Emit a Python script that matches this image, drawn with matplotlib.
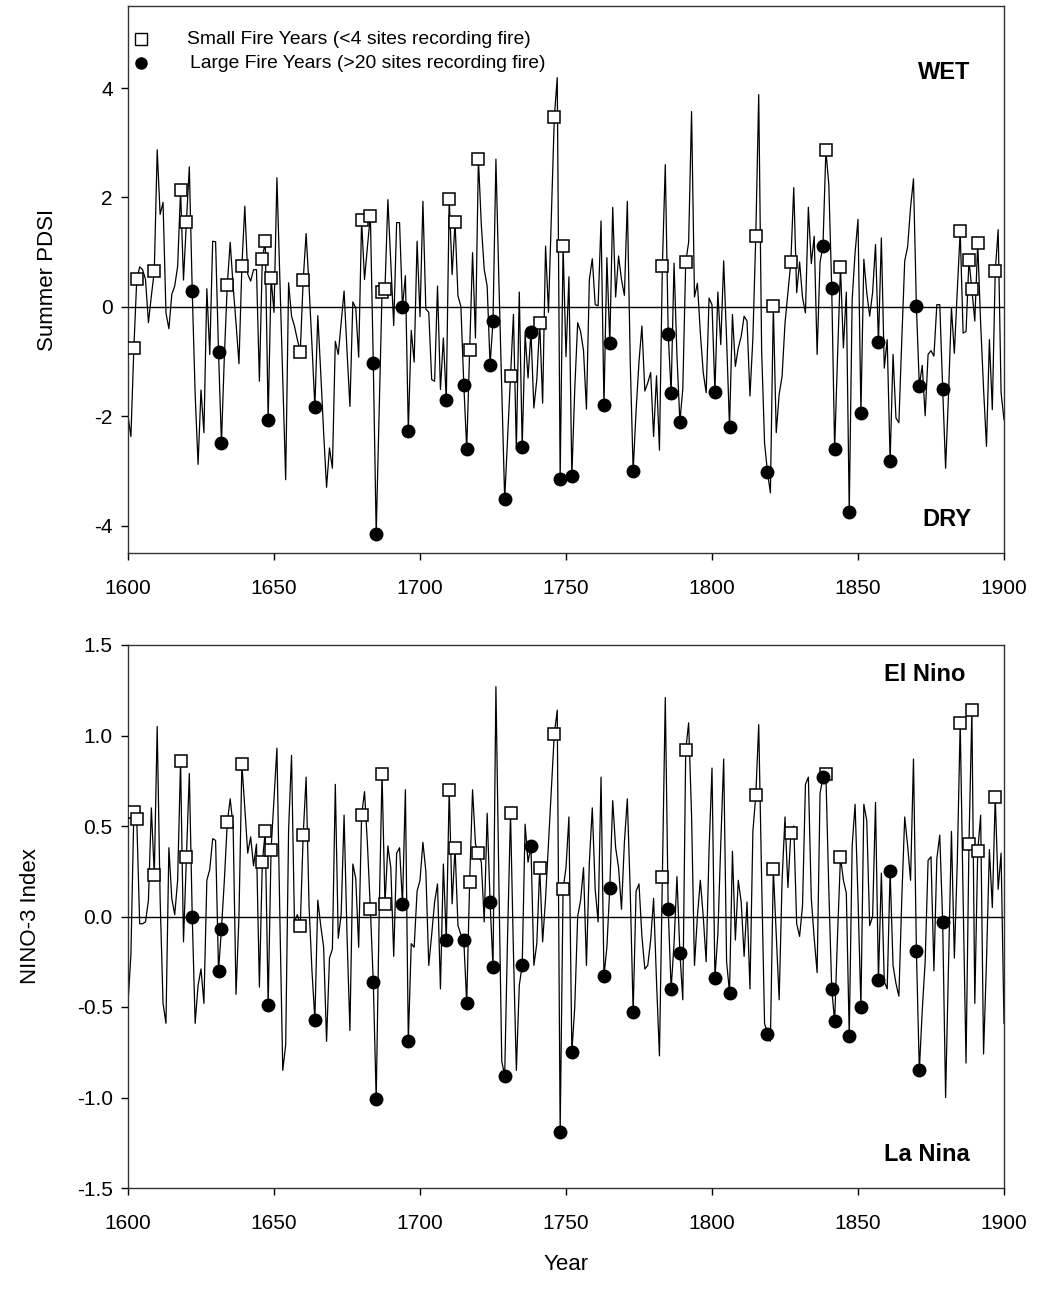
import matplotlib
matplotlib.use("Agg")
import matplotlib.pyplot as plt
import numpy as np

plt.rcParams['font.family'] = ['Liberation Sans', 'DejaVu Sans']

years = list(range(1600, 1901))

pdsi = [
    -2.00, -2.37, -0.76, 0.50, 0.73, 0.68, 0.50, -0.29, 0.20, 0.65,
    2.87, 1.69, 1.91, -0.11, -0.40, 0.23, 0.38, 0.74, 2.13, 0.49,
    1.55, 2.56, 0.29, -1.60, -2.88, -1.52, -2.30, 0.33, -0.87, 1.20,
    1.19, -0.83, -2.49, -0.90, 0.40, 1.18, 0.38, -0.30, -1.04, 0.74,
    1.84, 0.60, 0.47, 0.68, 0.68, -1.36, 0.88, 1.20, -2.06, 0.53,
    -0.10, 2.36, 0.50, -1.30, -3.16, 0.44, -0.17, -0.35, -0.60, -0.82,
    0.49, 1.34, 0.38, -0.70, -1.83, -0.16, -1.20, -2.30, -3.30, -2.58,
    -2.95, -0.63, -0.87, -0.30, 0.29, -0.80, -1.82, 0.09, -0.02, -0.92,
    1.58, 0.50, 1.10, 1.67, -1.02, -4.15, -1.90, 0.27, 0.32, 1.96,
    0.80, -0.34, 1.54, 1.54, 0.00, 0.57, -2.27, -0.43, -1.01, 1.20,
    -0.18, 1.93, -0.04, -0.10, -1.33, -1.36, 0.38, -1.51, -0.57, -1.70,
    1.98, 0.59, 1.55, 0.20, 0.01, -1.42, -2.60, -0.78, 0.99, -0.57,
    2.71, 1.50, 0.68, 0.38, -1.06, -0.26, 2.70, 0.50, -1.50, -3.52,
    -2.40, -1.27, -0.14, -2.61, 0.27, -2.57, -0.50, -1.30, -0.46, -1.85,
    -1.33, -0.29, -1.76, 1.11, -0.10, 1.70, 3.47, 4.19, -3.14, 1.12,
    -0.91, 0.55, -3.10, -1.50, -0.29, -0.45, -0.80, -1.87, 0.50, 0.88,
    0.04, 0.02, 1.57, -1.80, 0.90, -0.67, 1.82, 0.18, 0.93, 0.50,
    0.21, 1.93, -1.00, -3.00, -1.90, -1.00, -0.35, -1.54, -1.39, -1.20,
    -2.37, -1.26, -2.62, 0.74, 2.60, -0.49, -1.57, 0.80, -0.90, -2.10,
    -1.50, 0.82, 1.18, 3.57, 0.18, 0.43, -0.47, -1.20, -1.57, 0.16,
    0.04, -1.55, 0.27, -0.69, 0.84, -0.60, -2.20, -0.14, -1.09, -0.75,
    -0.54, -0.17, -0.26, -1.63, -0.57, 1.30, 3.88, -0.80, -2.49, -3.02,
    -3.40, 0.01, -2.30, -1.60, -1.27, -0.30, 0.26, 0.82, 2.18, 0.26,
    0.82, 0.17, -0.11, 1.82, 0.79, 1.29, -0.87, 0.82, 1.11, 2.86,
    2.24, 0.35, -2.60, -0.90, 0.73, -0.75, 0.27, -3.75, 0.13, 0.99,
    1.60, -1.94, 0.87, 0.26, -0.17, 0.26, 1.14, -0.65, 1.26, -1.12,
    -0.60, -2.82, -0.87, -2.03, -2.12, -0.60, 0.84, 1.10, 1.82, 2.34,
    0.01, -1.44, -1.07, -1.99, -0.87, -0.80, -0.90, 0.04, 0.04, -1.50,
    -2.95, -1.60, -0.02, -0.85, 0.30, 1.38, -0.48, -0.45, 0.85, 0.32,
    -0.26, 1.17, -0.30, -1.50, -2.55, -0.60, -1.88, 0.65, 1.41, -1.57,
    -2.06,
]

nino3 = [
    -0.48, -0.21, 0.58, 0.54, -0.04, -0.04, -0.03, 0.09, 0.60, 0.23,
    1.05, 0.10, -0.48, -0.59, 0.38, 0.10, 0.01, 0.20, 0.86, -0.14,
    0.33, 0.79, 0.00, -0.59, -0.38, -0.29, -0.48, 0.20, 0.26, 0.43,
    0.42, -0.30, -0.07, 0.20, 0.52, 0.65, 0.50, -0.43, 0.00, 0.84,
    0.60, 0.35, 0.44, 0.28, 0.40, -0.39, 0.30, 0.47, -0.49, 0.37,
    0.65, 0.93, 0.00, -0.85, -0.71, 0.48, 0.89, -0.03, 0.01, -0.05,
    0.45, 0.77, 0.06, -0.30, -0.57, 0.09, -0.05, -0.17, -0.69, -0.23,
    -0.18, 0.73, -0.12, 0.01, 0.56, -0.10, -0.63, 0.29, 0.21, -0.17,
    0.56, 0.69, 0.40, 0.04, -0.36, -1.01, 0.00, 0.79, 0.07, 0.39,
    0.27, -0.22, 0.35, 0.38, 0.07, 0.70, -0.69, -0.15, -0.17, 0.14,
    0.20, 0.41, 0.25, -0.27, -0.10, 0.08, 0.18, -0.40, 0.29, -0.13,
    0.70, 0.07, 0.38, -0.05, -0.10, -0.13, -0.48, 0.19, 0.70, 0.40,
    0.35, 0.30, -0.03, 0.57, 0.08, -0.28, 1.27, 0.20, -0.80, -0.88,
    -0.10, 0.57, -0.20, -0.85, -0.38, -0.27, 0.51, 0.30, 0.39, -0.27,
    -0.15, 0.27, -0.14, 0.10, 0.40, 0.70, 1.01, 1.14, -1.19, 0.15,
    0.27, 0.55, -0.75, -0.50, 0.00, 0.09, 0.27, -0.27, 0.30, 0.60,
    0.15, -0.03, 0.77, -0.33, -0.17, 0.16, 0.64, 0.38, 0.27, 0.04,
    0.41, 0.65, 0.14, -0.53, 0.14, 0.18, -0.11, -0.29, -0.27, -0.13,
    0.10, -0.36, -0.77, 0.22, 1.21, 0.04, -0.40, -0.15, 0.22, -0.20,
    -0.46, 0.92, 1.07, 0.56, -0.27, 0.00, 0.20, 0.00, -0.25, 0.37,
    0.82, -0.34, -0.10, 0.40, 0.87, -0.25, -0.42, 0.36, -0.13, 0.20,
    0.08, -0.22, 0.08, -0.40, 0.47, 0.67, 1.06, 0.20, -0.59, -0.65,
    -0.69, 0.26, -0.10, -0.46, 0.20, 0.55, 0.16, 0.46, 0.50, -0.04,
    -0.11, 0.06, 0.73, 0.77, 0.10, -0.12, -0.31, 0.68, 0.77, 0.79,
    0.15, -0.40, -0.58, -0.10, 0.33, 0.20, 0.13, -0.66, 0.39, 0.62,
    0.10, -0.50, 0.62, 0.53, -0.05, 0.00, 0.63, -0.35, 0.24, -0.36,
    -0.40, 0.25, -0.27, -0.37, -0.44, 0.10, 0.55, 0.39, 0.20, 0.87,
    -0.19, -0.85, -0.52, -0.25, 0.31, 0.33, -0.30, 0.32, 0.45, -0.03,
    -1.00, -0.26, 0.47, -0.23, 0.30, 1.07, 0.10, -0.81, 0.40, 1.14,
    -0.48, 0.36, 0.56, -0.76, -0.25, 0.37, 0.05, 0.66, 0.15, 0.35,
    -0.59,
]

small_fire_years = [1602, 1603, 1609, 1618, 1620, 1634, 1639, 1646, 1647, 1649,
                    1659, 1660, 1680, 1683, 1687, 1688, 1710, 1712, 1717, 1720,
                    1731, 1741, 1746, 1749, 1783, 1791, 1815, 1821, 1827, 1839,
                    1844, 1885, 1888, 1889, 1891, 1897]
large_fire_years = [1622, 1631, 1632, 1648, 1664, 1684, 1685, 1694, 1696, 1709,
                    1715, 1716, 1724, 1725, 1729, 1735, 1738, 1748, 1752, 1763,
                    1765, 1773, 1785, 1786, 1789, 1801, 1806, 1819, 1838, 1841,
                    1842, 1847, 1851, 1857, 1861, 1870, 1871, 1879]

x_ticks = [1600, 1650, 1700, 1750, 1800, 1850, 1900]
pdsi_ticks = [-4, -2, 0, 2, 4]
nino_ticks = [-1.5, -1.0, -0.5, 0.0, 0.5, 1.0, 1.5]

legend_labels = ["Small Fire Years (<4 sites recording fire)",
                 "Large Fire Years (>20 sites recording fire)"]

W, H = 1039, 1293
fig = plt.figure(figsize=(W / 100, H / 100), dpi=100)

def fx(px):
    return px / W

def fy(py):
    return 1 - py / H

TOP0, TOP1 = 6, 553
BOT0, BOT1 = 645, 1188
ax1 = fig.add_axes([fx(128), fy(TOP1), fx(1004) - fx(128), fy(TOP0) - fy(TOP1)])
ax2 = fig.add_axes([fx(128), fy(BOT1), fx(1004) - fx(128), fy(BOT0) - fy(BOT1)])

yr = np.array(years)
sq_idx = [years.index(y) for y in small_fire_years]
lg_idx = [years.index(y) for y in large_fire_years]

for ax, series in ((ax1, np.array(pdsi)), (ax2, np.array(nino3))):
    ax.axhline(0, color='black', lw=1.0, zorder=1)
    ax.plot(yr, series, color='black', lw=0.9, zorder=2)
    ax.plot(yr[sq_idx], series[sq_idx], linestyle='none', marker='s', ms=9,
            mfc='white', mec='black', mew=1.1, zorder=3)
    ax.plot(yr[lg_idx], series[lg_idx], linestyle='none', marker='o', ms=9,
            mfc='black', mec='black', zorder=3)
    ax.set_xlim(1600, 1900)
    ax.set_xticks(x_ticks)
    ax.tick_params(direction='out', length=5, width=1, labelsize=15)
    ax.tick_params(axis='x', pad=14)
    ax.tick_params(axis='y', pad=6)
    for s in ax.spines.values():
        s.set_linewidth(1.0)
        s.set_color('#333333')

ax1.set_ylim(-4.5, 5.5)
ax1.set_yticks(pdsi_ticks)
ax1.set_yticklabels([str(v) for v in pdsi_ticks])
ax2.set_ylim(-1.5, 1.5)
ax2.set_yticks(nino_ticks)
ax2.set_yticklabels([f"{v:.1f}" for v in nino_ticks])

ax1.set_ylabel("Summer PDSI", fontsize=16, labelpad=26)
ax2.set_ylabel("NINO-3 Index", fontsize=16, labelpad=26)
ax2.set_xlabel("Year", fontsize=16, labelpad=15)

ax1.text(0.932, 0.878, "WET", transform=ax1.transAxes, fontsize=17,
         fontweight='bold', ha='center', va='center')
ax1.text(0.935, 0.062, "DRY", transform=ax1.transAxes, fontsize=17,
         fontweight='bold', ha='center', va='center')
ax2.text(0.91, 0.945, "El Nino", transform=ax2.transAxes, fontsize=17,
         fontweight='bold', ha='center', va='center')
ax2.text(0.912, 0.061, "La Nina", transform=ax2.transAxes, fontsize=17,
         fontweight='bold', ha='center', va='center')

# legend (markers + labels) in axes fraction of the upper panel
hgt = TOP1 - TOP0
lx = (141 - 128) / 876
ly1 = (TOP1 - 39) / hgt
ly2 = (TOP1 - 63) / hgt
ax1.plot([lx], [ly1], transform=ax1.transAxes, marker='s', ms=8, mfc='white',
         mec='black', mew=1.0, linestyle='none', clip_on=False)
ax1.plot([lx], [ly2], transform=ax1.transAxes, marker='o', ms=8, mfc='black',
         mec='black', linestyle='none', clip_on=False)
ax1.text((187 - 128) / 876, ly1, legend_labels[0], transform=ax1.transAxes,
         fontsize=13.9, va='center', ha='left')
ax1.text((190 - 128) / 876, ly2, legend_labels[1], transform=ax1.transAxes,
         fontsize=13.9, va='center', ha='left')

fig.savefig("out.png", dpi=100)
